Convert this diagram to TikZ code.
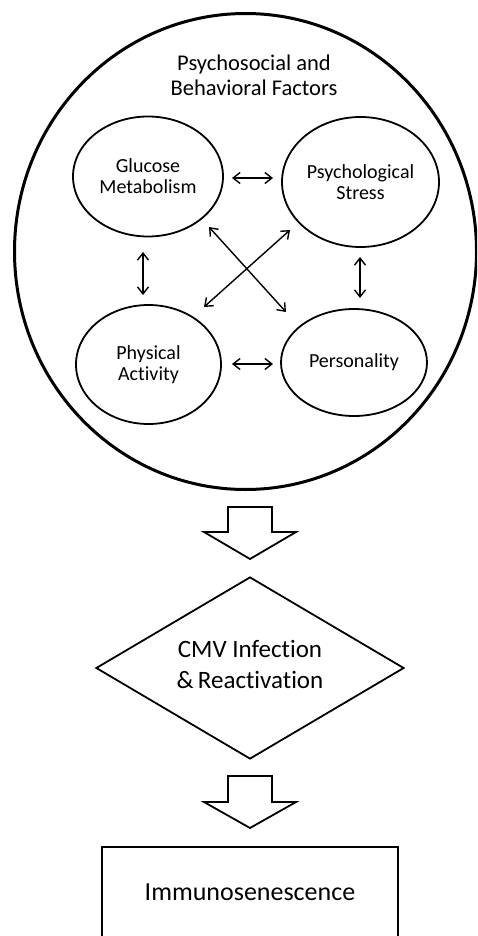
\documentclass[tikz,border=0pt]{standalone}
\usepackage{fontspec}
\setmainfont{Carlito}[Ligatures=NoCommon]
\usetikzlibrary{arrows.meta,shapes.geometric}
\begin{document}
\begin{tikzpicture}[x=1pt,y=-1pt,
  oval/.style={draw,line width=1.8pt,ellipse,inner sep=0pt,align=center,font=\fontsize{20}{21}\selectfont},
  rel/.style={line width=1.4pt,{Straight Barb[length=7pt,width=11pt]}-{Straight Barb[length=7pt,width=11pt]}},
  blockarrow/.style={draw,line width=1.8pt,line join=miter}]
\useasboundingbox (0,0) rectangle (477,936);
\clip (0,0) rectangle (477,936);
% big circle
\node[draw,line width=3pt,ellipse,minimum width=462pt,minimum height=476pt] (outer) at (245.5,251.5) {};
\node[align=center,font=\fontsize{22.5}{25}\selectfont] (title) at (254,75) {Psychosocial and\\Behavioral Factors};
% inner ellipses
\node[oval,minimum width=150pt,minimum height=120pt] (gm) at (148,176.5) {Glucose\\Metabolism};
\node[oval,minimum width=157pt,minimum height=130pt] (ps) at (360.5,182) {Psychological\\Stress};
\node[oval,minimum width=145pt,minimum height=119pt] (pa) at (148.5,364.5) {Physical\\Activity};
\node[oval,minimum width=146pt,minimum height=107pt] (pe) at (354,362.5) {Personality};
% relation arrows
\coordinate (h1a) at (232,178); \coordinate (h1b) at (273,178);
\coordinate (h2a) at (232,364); \coordinate (h2b) at (273,364);
\coordinate (v1a) at (143,252); \coordinate (v1b) at (143,295);
\coordinate (v2a) at (360,257); \coordinate (v2b) at (360,298);
\coordinate (d1a) at (209,227); \coordinate (d1b) at (286,312);
\coordinate (d2a) at (290,230); \coordinate (d2b) at (204,307);
\draw[rel] (h1a) -- (h1b);
\draw[rel] (h2a) -- (h2b);
\draw[rel] (v1a) -- (v1b);
\draw[rel] (v2a) -- (v2b);
\draw[rel] (d1a) -- (d1b);
\draw[rel] (d2a) -- (d2b);
% block arrow 1
\draw[blockarrow] (228,507) -- (272,507) -- (272,532) -- (296,532) -- (250,559) -- (204,532) -- (228,532) -- cycle;
% diamond
\node[draw,line width=1.8pt,diamond,minimum width=308pt,minimum height=182pt,inner sep=0pt] (cmv) at (250,668) {};
\node[align=center,font=\fontsize{25}{31}\selectfont] (cmvt) at (250,664) {CMV Infection\\\&\,Reactivation};
% block arrow 2
\draw[blockarrow] (228,776) -- (272,776) -- (272,802) -- (296,802) -- (250,828) -- (204,802) -- (228,802) -- cycle;
% rectangle
\node[draw,line width=1.8pt,minimum width=296pt,minimum height=120pt,anchor=north] (imm) at (250,846) {};
\node[font=\fontsize{26}{30}\selectfont] (immt) at (250,892) {Immunosenescence};
\end{tikzpicture}
\end{document}
